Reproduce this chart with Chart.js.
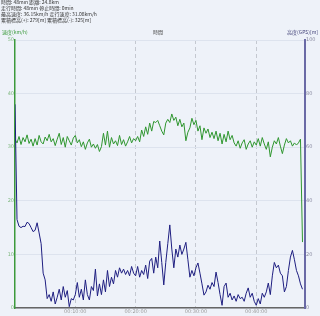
<!DOCTYPE html>
<html><head><meta charset="utf-8">
<script src="https://cdn.jsdelivr.net/npm/chart.js@4/dist/chart.umd.min.js"></script>
<style>
html,body{margin:0;padding:0;background:#eef2f9;width:320px;height:316px;overflow:hidden;font-family:"Noto Sans CJK JP","DejaVu Sans",sans-serif;}
#wrap{position:relative;width:320px;height:316px;}
canvas{position:absolute;left:0;top:0;}
.hd{position:absolute;left:1px;font-size:5px;line-height:6px;color:#333;white-space:nowrap;}
.ax{position:absolute;top:29px;font-size:5px;line-height:6px;white-space:nowrap;}
</style></head>
<body><div id="wrap">
<canvas id="c" width="320" height="316"></canvas>
<div class="hd" style="top:-1px">時間: 48min 距離: 24.8km</div>
<div class="hd" style="top:5px">走行時間: 48min 停止時間: 0min</div>
<div class="hd" style="top:11px">最高速度: 36.15km/h 走行速度: 31.08km/h</div>
<div class="hd" style="top:17px">累積標高(+): 279[m] 累積標高(-): 325[m]</div>
<div class="ax" style="left:2px;color:#3a9a3a">速度(km/h)</div>
<div class="ax" style="left:153px;color:#444">時間</div>
<div class="ax" style="right:2px;color:#44447a">高度(GPS)[m]</div>
</div>
<script>
const SAMPLE_SEC = 20;
const X_MAX_SEC = 2885;
const timeTicksSec = [600, 1200, 1800, 2400];
const speedTicks = [0, 10, 20, 30, 40, 50];
const altitudeTicks = [0, 20, 40, 60, 80, 100];

const speedKmh = [
31.5,30.8,32.0,30.5,31.8,31.0,32.3,30.7,31.5,30.2,
31.6,30.4,32.2,31.0,30.6,31.9,31.2,32.4,31.0,31.6,
30.3,31.5,32.6,30.5,31.8,30.0,32.0,31.2,30.4,31.7,
32.2,30.8,31.4,30.1,31.0,29.6,30.8,31.5,30.0,30.6,
29.8,30.5,29.2,30.1,32.6,30.4,33.0,30.0,31.8,30.6,
31.2,30.3,32.2,30.5,31.4,30.2,31.0,32.0,30.8,31.6,
31.2,32.0,31.0,33.2,32.0,33.8,32.4,34.5,33.0,34.8,
34.6,35.0,34.0,33.0,32.3,34.5,35.2,34.6,36.2,35.0,
35.6,34.0,35.2,33.8,34.5,31.2,32.8,33.6,35.4,34.2,
35.0,33.0,34.0,31.4,33.6,32.6,33.4,31.8,32.8,31.6,
33.0,31.2,32.6,30.6,32.4,31.0,33.0,31.4,32.2,30.8,
30.2,31.2,29.8,30.8,31.4,29.6,30.6,31.2,30.0,31.0,
30.4,31.6,30.2,31.8,30.6,29.6,31.0,28.2,30.0,31.2,
30.6,31.8,30.2,28.8,30.4,31.6,30.8,31.2,30.2,30.8,
30.4,30.8,31.5,12.3
];

const altitudeM = [
76,33,30.5,30,30.5,30.4,32,31.5,30,28.5,
29,31.8,28,24,13,10.5,3.5,5,2.5,6,
1.5,4,7,3,8,4,6.5,0.5,3.5,3,
5,9.5,4,7,3,10.5,5,3,8,6.5,
14.5,4.5,9,5,10.5,6,14,8,11.5,9,
14,11.5,15,13,14.5,12.5,14,12,15.5,13,
12,15.5,11.5,14,12.5,16,11,17.5,18.5,13,
19,15,25,17,8.6,17,24,31,22,15,
22,19,23.5,20,22,24.5,18,11.5,14,12,
15,16.8,13,9,4.8,6,8.5,7,9.5,8,
13.4,9.5,5,1,8,9.3,4,5.5,3,4.5,
2.5,5,3.5,4,2.5,5.5,7.5,4,5.5,2.5,
1,3.5,1.5,5.5,4,6,9.3,5,12,17,
15,16,13,12,6,8,14,19,21.5,18,
14,12,9,7
];

const elapsedSec = speedKmh.map((_, i) => i * SAMPLE_SEC);
const pad = n => String(n).padStart(2, '0');
const fmt = s => pad(Math.floor(s / 3600)) + ':' + pad(Math.floor(s / 60) % 60) + ':' + pad(s % 60);

new Chart(document.getElementById('c'), {
  type: 'line',
  data: {
    datasets: [
      { label: '高度', data: elapsedSec.map((t, i) => ({ x: t, y: altitudeM[i] })), yAxisID: 'yAlt',
        borderColor: '#1e1e80', borderWidth: 1, pointRadius: 0, tension: 0, fill: false },
      { label: '速度', data: elapsedSec.map((t, i) => ({ x: t, y: speedKmh[i] })), yAxisID: 'ySpd',
        borderColor: '#2f962f', borderWidth: 1, pointRadius: 0, tension: 0, fill: false }
    ]
  },
  options: {
    responsive: false, animation: false, events: [],
    layout: { padding: { top: 40, left: 0, right: 0, bottom: 0 } },
    plugins: { legend: { display: false }, tooltip: { enabled: false } },
    scales: {
      x: {
        type: 'linear', min: 0, max: X_MAX_SEC,
        afterBuildTicks: s => { s.ticks = timeTicksSec.map(v => ({ value: v })); },
        afterFit: s => { s.height = 8; },
        ticks: { callback: v => fmt(v), font: { size: 5, family: 'DejaVu Sans' }, color: '#9a9a9a', padding: 1, maxRotation: 0, autoSkip: false },
        grid: { color: '#c4c8d0', lineWidth: 1, drawTicks: false },
        border: { color: '#666', width: 1.5, dash: [4, 3] }
      },
      ySpd: {
        position: 'left', min: 0, max: 50,
        afterBuildTicks: s => { s.ticks = speedTicks.map(v => ({ value: v })); },
        afterFit: s => { s.width = 15; },
        ticks: { font: { size: 5, family: 'DejaVu Sans' }, color: '#7fb87f', padding: 1 },
        grid: { color: '#dde3ee', lineWidth: 1, drawTicks: false },
        border: { color: '#3c9a3c', width: 1.5 }
      },
      yAlt: {
        position: 'right', min: 0, max: 100,
        afterBuildTicks: s => { s.ticks = altitudeTicks.map(v => ({ value: v })); },
        afterFit: s => { s.width = 15; },
        ticks: { font: { size: 5, family: 'DejaVu Sans' }, color: '#8a8aa0', padding: 1 },
        grid: { display: false, drawTicks: false },
        border: { color: '#6a6aa6', width: 2 }
      }
    }
  }
});
</script>
</body></html>
